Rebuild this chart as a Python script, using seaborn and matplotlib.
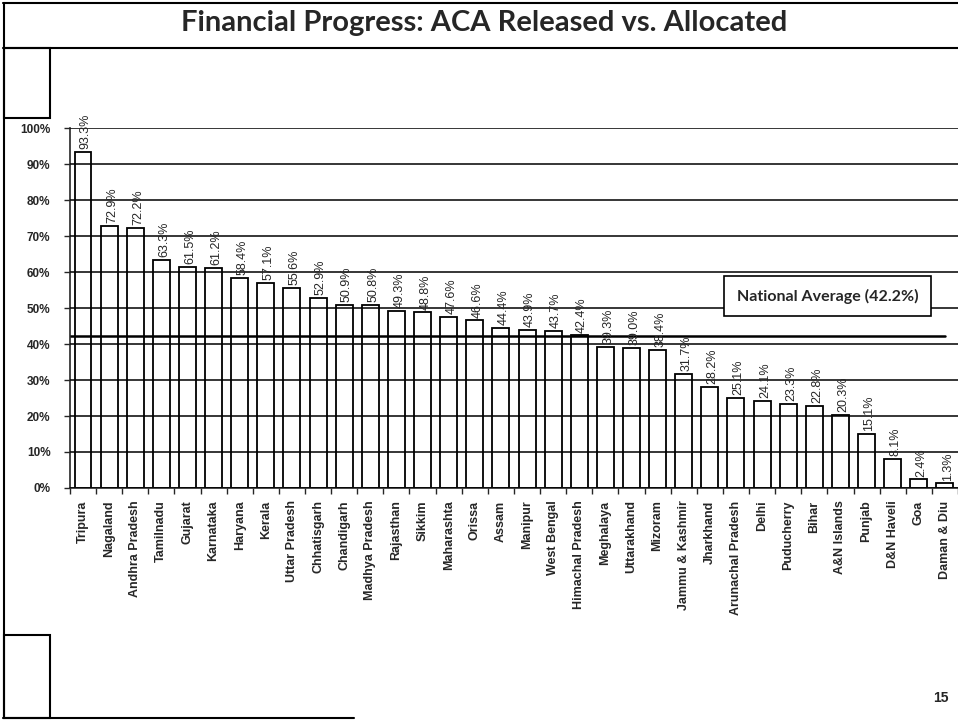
import numpy as np
import pandas as pd
import matplotlib
matplotlib.use("Agg")
import matplotlib.pyplot as plt
from matplotlib.lines import Line2D
from matplotlib.patches import Rectangle
from matplotlib.ticker import PercentFormatter
import seaborn as sns

# data
states = ["Tripura", "Nagaland", "Andhra Pradesh", "Tamilnadu", "Gujarat", "Karnataka",
          "Haryana", "Kerala", "Uttar Pradesh", "Chhatisgarh", "Chandigarh", "Madhya Pradesh",
          "Rajasthan", "Sikkim", "Maharashta", "Orissa", "Assam", "Manipur", "West Bengal",
          "Himachal Pradesh", "Meghalaya", "Uttarakhand", "Mizoram", "Jammu & Kashmir",
          "Jharkhand", "Arunachal Pradesh", "Delhi", "Puducherry", "Bihar", "A&N Islands",
          "Punjab", "D&N Haveli", "Goa", "Daman & Diu"]
released_pct = [93.3, 72.9, 72.2, 63.3, 61.5, 61.2, 58.4, 57.1, 55.6, 52.9, 50.9, 50.8,
                49.3, 48.8, 47.6, 46.6, 44.4, 43.9, 43.7, 42.4, 39.3, 39.0, 38.4, 31.7,
                28.2, 25.1, 24.1, 23.3, 22.8, 20.3, 15.1, 8.1, 2.4, 1.3]
national_avg = 42.2

df = pd.DataFrame({"state": states, "pct": np.array(released_pct) / 100})

sns.set_style("white")
plt.rcParams["font.family"] = ["Liberation Sans", "DejaVu Sans"]

fig = plt.figure(figsize=(9.58, 7.24), dpi=100)
ax = fig.add_axes([0.073, 0.326, 0.927, 0.497])

sns.barplot(data=df, x="state", y="pct", color="white", edgecolor="black",
            linewidth=1.3, width=0.65, ax=ax, saturation=1)

ax.set_xlim(-0.5, len(states) - 0.5)
ax.set_ylim(0, 1.0)
ax.yaxis.set_major_locator(plt.MultipleLocator(0.1))
ax.yaxis.set_major_formatter(PercentFormatter(1.0, decimals=0))
ax.grid(axis="y", color="black", linewidth=1.1)
ax.set_axisbelow(False)
for s in ["top", "right"]:
    ax.spines[s].set_visible(False)
ax.spines["left"].set_linewidth(1.2)
ax.spines["bottom"].set_linewidth(1.2)
ax.set_xlabel("")
ax.set_ylabel("")

ax.tick_params(axis="y", length=4, width=1, direction="out", left=True, labelsize=8.5, pad=10)
ax.set_xticks(np.arange(-0.5, len(states)), minor=True)
ax.tick_params(axis="x", which="minor", length=4, width=1, direction="out", bottom=True)
ax.tick_params(axis="x", which="major", length=0, labelsize=9, pad=9)
for lab in ax.get_xticklabels():
    lab.set_rotation(90)
    lab.set_fontweight("bold")
    lab.set_va("top")
for lab in ax.get_yticklabels():
    lab.set_fontweight("bold")

# value labels above bars
for i, v in enumerate(df["pct"]):
    ax.annotate(f"{v * 100:.1f}%", (i, v), xytext=(2, 2), textcoords="offset points",
                rotation=90, ha="center", va="bottom", fontsize=9, clip_on=False)

# national average line and box
ax.axhline(national_avg / 100, xmin=0, xmax=0.985, color="black", linewidth=1.8)
ax.text(28.5, 0.533, f"National Average ({national_avg}%)", ha="center", va="center",
        fontsize=11.5, fontweight="bold", family=["Lato", "DejaVu Sans"],
        bbox=dict(boxstyle="square,pad=0.8", facecolor="white", edgecolor="black", linewidth=1.2))

# slide decoration
fig.text(0.505, 0.968, "Financial Progress: ACA Released vs. Allocated", ha="center", va="center",
         fontsize=21, fontweight="bold", family=["Lato", "DejaVu Sans"])
fig.text(0.982, 0.036, "15", ha="center", va="center", fontsize=10, fontweight="bold")
lw = 1.5
fig.add_artist(Line2D([0.003, 1.0], [0.996, 0.996], color="black", lw=lw))
fig.add_artist(Line2D([0.003, 1.0], [0.934, 0.934], color="black", lw=lw))
fig.add_artist(Line2D([0.004, 0.004], [0.008, 0.996], color="black", lw=lw))
fig.add_artist(Line2D([0.003, 0.37], [0.008, 0.008], color="black", lw=lw))
fig.add_artist(Rectangle((0.004, 0.837), 0.048, 0.097, fill=False, edgecolor="black", lw=lw))
fig.add_artist(Rectangle((0.004, 0.008), 0.048, 0.115, fill=False, edgecolor="black", lw=lw))

fig.savefig("out.png", dpi=100)
